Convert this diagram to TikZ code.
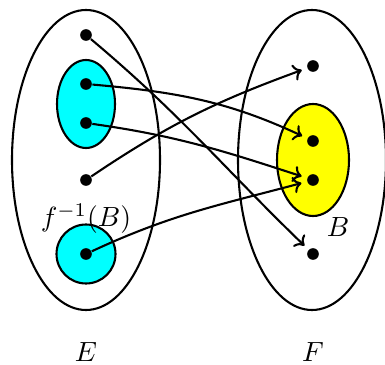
\documentclass[tikz,border=0pt]{standalone}
\usetikzlibrary{arrows.meta}
\definecolor{aqua}{RGB}{0,255,255}
\definecolor{lemon}{RGB}{255,255,0}
\begin{document}
\begin{tikzpicture}[x=0.36pt,y=0.36pt,
  setline/.style={line width=0.75pt},
  dot/.style={circle,fill=black,inner sep=0pt,minimum size=4.2pt},
  maparrow/.style={line width=0.75pt,-{To[length=3pt,width=6pt]},shorten >=2pt},
  lbl/.style={inner sep=0pt}]
\useasboundingbox (0,0) rectangle (385,364);
% sets
\draw[setline] (86,204) ellipse [x radius=74, y radius=150];
\draw[setline] (312,204) ellipse [x radius=74, y radius=150];
\draw[setline,fill=aqua] (86,260) ellipse [x radius=29, y radius=44];
\draw[setline,fill=aqua] (86,110) ellipse [x radius=29.5, y radius=29.5];
\draw[setline,fill=lemon] (313,204) ellipse [x radius=36, y radius=56];
% points
\node[dot] (a1) at (86,329) {};
\node[dot] (a2) at (86,280) {};
\node[dot] (a3) at (86,241) {};
\node[dot] (a4) at (86,184) {};
\node[dot] (a5) at (86,110) {};
\node[dot] (b1) at (313,298) {};
\node[dot] (b2) at (313,223) {};
\node[dot] (b3) at (313,184) {};
\node[dot] (b4) at (313,110) {};
% labels
\node[lbl] (fb) at (86,145) {$f^{-1}(B)$};
\node[lbl] (lb) at (338,137) {$B$};
\node[lbl] (le) at (86,12) {$E$};
\node[lbl] (lf) at (313,12) {$F$};
% maps
\draw[maparrow] (a1) to[out=-40,in=136] (b4);
\draw[maparrow] (a2) to[out=-5,in=155] (b2);
\draw[maparrow] (a3) to[out=-8,in=162] (b3);
\draw[maparrow] (a4) to[out=34,in=200] (b1);
\draw[maparrow] (a5) to[out=25,in=195] (b3);
\end{tikzpicture}
\end{document}
